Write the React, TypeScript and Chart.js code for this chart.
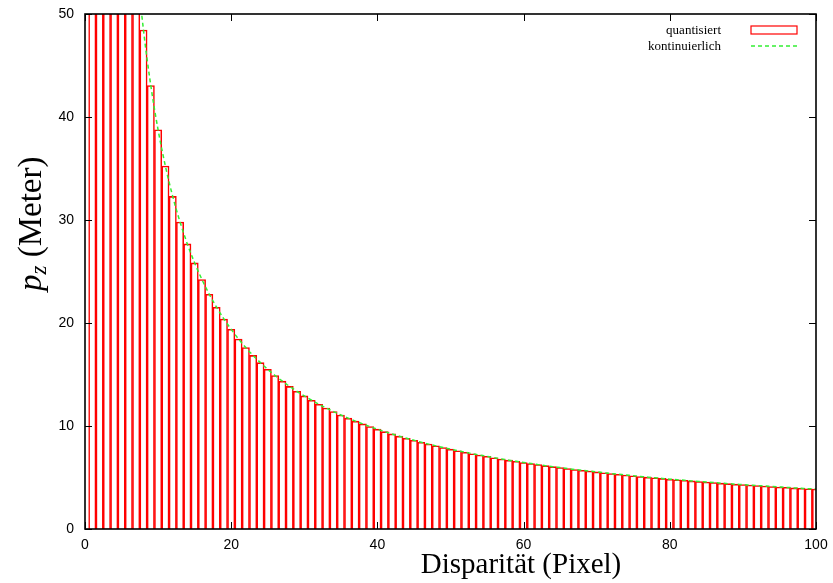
import React, { useEffect, useRef } from "react";
import { Chart, registerables } from "chart.js";

Chart.register(...registerables);

// Disparity in pixels (bar centres)
const disparities = [
  1, 2, 3, 4, 5, 6, 7, 8, 9, 10,
  11, 12, 13, 14, 15, 16, 17, 18, 19, 20,
  21, 22, 23, 24, 25, 26, 27, 28, 29, 30,
  31, 32, 33, 34, 35, 36, 37, 38, 39, 40,
  41, 42, 43, 44, 45, 46, 47, 48, 49, 50,
  51, 52, 53, 54, 55, 56, 57, 58, 59, 60,
  61, 62, 63, 64, 65, 66, 67, 68, 69, 70,
  71, 72, 73, 74, 75, 76, 77, 78, 79, 80,
  81, 82, 83, 84, 85, 86, 87, 88, 89, 90,
  91, 92, 93, 94, 95, 96, 97, 98, 99, 100,
];

// Depth p_z in metres at each disparity
const depthMeters = [
  387.5, 193.75, 129.17, 96.88, 77.5, 64.58, 55.36, 48.44, 43.06, 38.75,
  35.23, 32.29, 29.81, 27.68, 25.83, 24.22, 22.79, 21.53, 20.39, 19.38,
  18.45, 17.61, 16.85, 16.15, 15.5, 14.9, 14.35, 13.84, 13.36, 12.92,
  12.5, 12.11, 11.74, 11.4, 11.07, 10.76, 10.47, 10.2, 9.94, 9.69,
  9.45, 9.23, 9.01, 8.81, 8.61, 8.42, 8.24, 8.07, 7.91, 7.75,
  7.6, 7.45, 7.31, 7.18, 7.05, 6.92, 6.8, 6.68, 6.57, 6.46,
  6.35, 6.25, 6.15, 6.05, 5.96, 5.87, 5.78, 5.7, 5.62, 5.54,
  5.46, 5.38, 5.31, 5.24, 5.17, 5.1, 5.03, 4.97, 4.91, 4.84,
  4.78, 4.73, 4.67, 4.61, 4.56, 4.51, 4.45, 4.4, 4.35, 4.31,
  4.26, 4.21, 4.17, 4.12, 4.08, 4.04, 3.99, 3.95, 3.91, 3.88,
];

const xTicks = [0, 20, 40, 60, 80, 100];
const yTicks = [0, 10, 20, 30, 40, 50];
const legendLabels = ["quantisiert", "kontinuierlich"];
const xTitle = "Disparität (Pixel)";
const yTitleSymbol = "p";
const yTitleSub = "z";
const yTitleUnit = " (Meter)";

const RED = "#ff0000";
const GREEN = "#33ee33";
const SERIF = "'Liberation Serif', 'Times New Roman', serif";
const SANS = "'Liberation Sans', Arial, sans-serif";

const zeroPadding = (s: any) => {
  s.paddingTop = 0;
  s.paddingBottom = 0;
  s.paddingLeft = 0;
  s.paddingRight = 0;
};

const decorPlugin = {
  id: "decor",
  afterDatasetsDraw(chart: any) {
    const { ctx, chartArea, scales } = chart;
    const { left, right, top, bottom } = chartArea;
    const x = scales.x;
    const y = scales.y;
    ctx.save();
    ctx.strokeStyle = "#000";
    ctx.lineWidth = 1;
    ctx.beginPath();
    xTicks.forEach((v) => {
      const px = Math.round(x.getPixelForValue(v)) + 0.5;
      ctx.moveTo(px, bottom);
      ctx.lineTo(px, bottom - 7);
      ctx.moveTo(px, top);
      ctx.lineTo(px, top + 7);
    });
    yTicks.forEach((v) => {
      const py = Math.round(y.getPixelForValue(v)) + 0.5;
      ctx.moveTo(left, py);
      ctx.lineTo(left + 7, py);
      ctx.moveTo(right, py);
      ctx.lineTo(right - 7, py);
    });
    ctx.stroke();
    ctx.lineWidth = 1.6;
    ctx.strokeRect(left, top, right - left, bottom - top);
    ctx.restore();
  },
  afterDraw(chart: any) {
    const { ctx } = chart;
    ctx.save();
    // Legend
    ctx.fillStyle = "#000";
    ctx.font = `13px ${SERIF}`;
    ctx.textAlign = "right";
    ctx.textBaseline = "alphabetic";
    ctx.fillText(legendLabels[0], 721, 34);
    ctx.fillText(legendLabels[1], 721, 50);
    ctx.strokeStyle = RED;
    ctx.lineWidth = 1.2;
    ctx.strokeRect(751, 26, 46, 8);
    ctx.strokeStyle = GREEN;
    ctx.lineWidth = 1.5;
    ctx.setLineDash([4, 3]);
    ctx.beginPath();
    ctx.moveTo(751, 46);
    ctx.lineTo(797, 46);
    ctx.stroke();
    ctx.setLineDash([]);

    // X title
    ctx.textAlign = "center";
    ctx.font = `29px ${SERIF}`;
    ctx.fillText(xTitle, 521, 573);

    // Y title (rotated)
    ctx.translate(41, 291);
    ctx.rotate(-Math.PI / 2);
    ctx.textAlign = "left";
    ctx.font = `italic 33px ${SERIF}`;
    ctx.fillText(yTitleSymbol, 0, 0);
    const wp = ctx.measureText(yTitleSymbol).width;
    ctx.font = `italic 23px ${SERIF}`;
    ctx.fillText(yTitleSub, wp, 5);
    const wz = ctx.measureText(yTitleSub).width;
    ctx.font = `33px ${SERIF}`;
    ctx.fillText(yTitleUnit, wp + wz, 0);
    ctx.restore();
  },
};

export default function App() {
  const canvasRef = useRef<HTMLCanvasElement | null>(null);

  useEffect(() => {
    document.body.style.margin = "0";
    const canvas = canvasRef.current;
    if (!canvas) return;
    const barData = disparities.map((d, i) => ({ x: d, y: depthMeters[i] }));
    const lineData = disparities.map((d, i) => ({ x: d, y: depthMeters[i] }));
    const chart = new Chart(canvas, {
      type: "bar",
      data: {
        datasets: [
          {
            type: "bar",
            label: legendLabels[0],
            data: barData as any,
            backgroundColor: "rgba(255,255,255,0)",
            borderColor: RED,
            borderWidth: 0.9,
            barPercentage: 1,
            categoryPercentage: 1,
            order: 2,
          } as any,
          {
            type: "line",
            label: legendLabels[1],
            data: lineData as any,
            borderColor: GREEN,
            borderWidth: 1.5,
            borderDash: [4, 3],
            pointRadius: 0,
            fill: false,
            cubicInterpolationMode: "monotone",
            order: 1,
          } as any,
        ],
      },
      options: {
        responsive: false,
        animation: false,
        events: [],
        layout: { padding: { left: 0, top: 14, right: 17, bottom: 0 } },
        plugins: {
          legend: { display: false },
          tooltip: { enabled: false },
          title: { display: false },
        },
        scales: {
          x: {
            type: "linear",
            min: 0,
            max: 100,
            offset: false,
            grid: { display: false, drawTicks: false },
            border: { display: false },
            afterFit: (s: any) => {
              s.height = 54;
              zeroPadding(s);
            },
            afterBuildTicks: (s: any) => {
              s.ticks = xTicks.map((v) => ({ value: v }));
            },
            ticks: {
              padding: 8,
              maxRotation: 0,
              autoSkip: false,
              color: "#000",
              font: { family: SANS, size: 14 },
            },
          },
          y: {
            type: "linear",
            min: 0,
            max: 50,
            grid: { display: false, drawTicks: false },
            border: { display: false },
            afterFit: (s: any) => {
              s.width = 85;
              zeroPadding(s);
            },
            afterBuildTicks: (s: any) => {
              s.ticks = yTicks.map((v) => ({ value: v }));
            },
            ticks: {
              padding: 11,
              autoSkip: false,
              color: "#000",
              font: { family: SANS, size: 14 },
            },
          },
        },
      },
      plugins: [decorPlugin],
    });
    return () => chart.destroy();
  }, []);

  return (
    <div style={{ position: "absolute", left: 0, top: 0, width: 833, height: 583 }}>
      <canvas ref={canvasRef} width={833} height={583} />
    </div>
  );
}
